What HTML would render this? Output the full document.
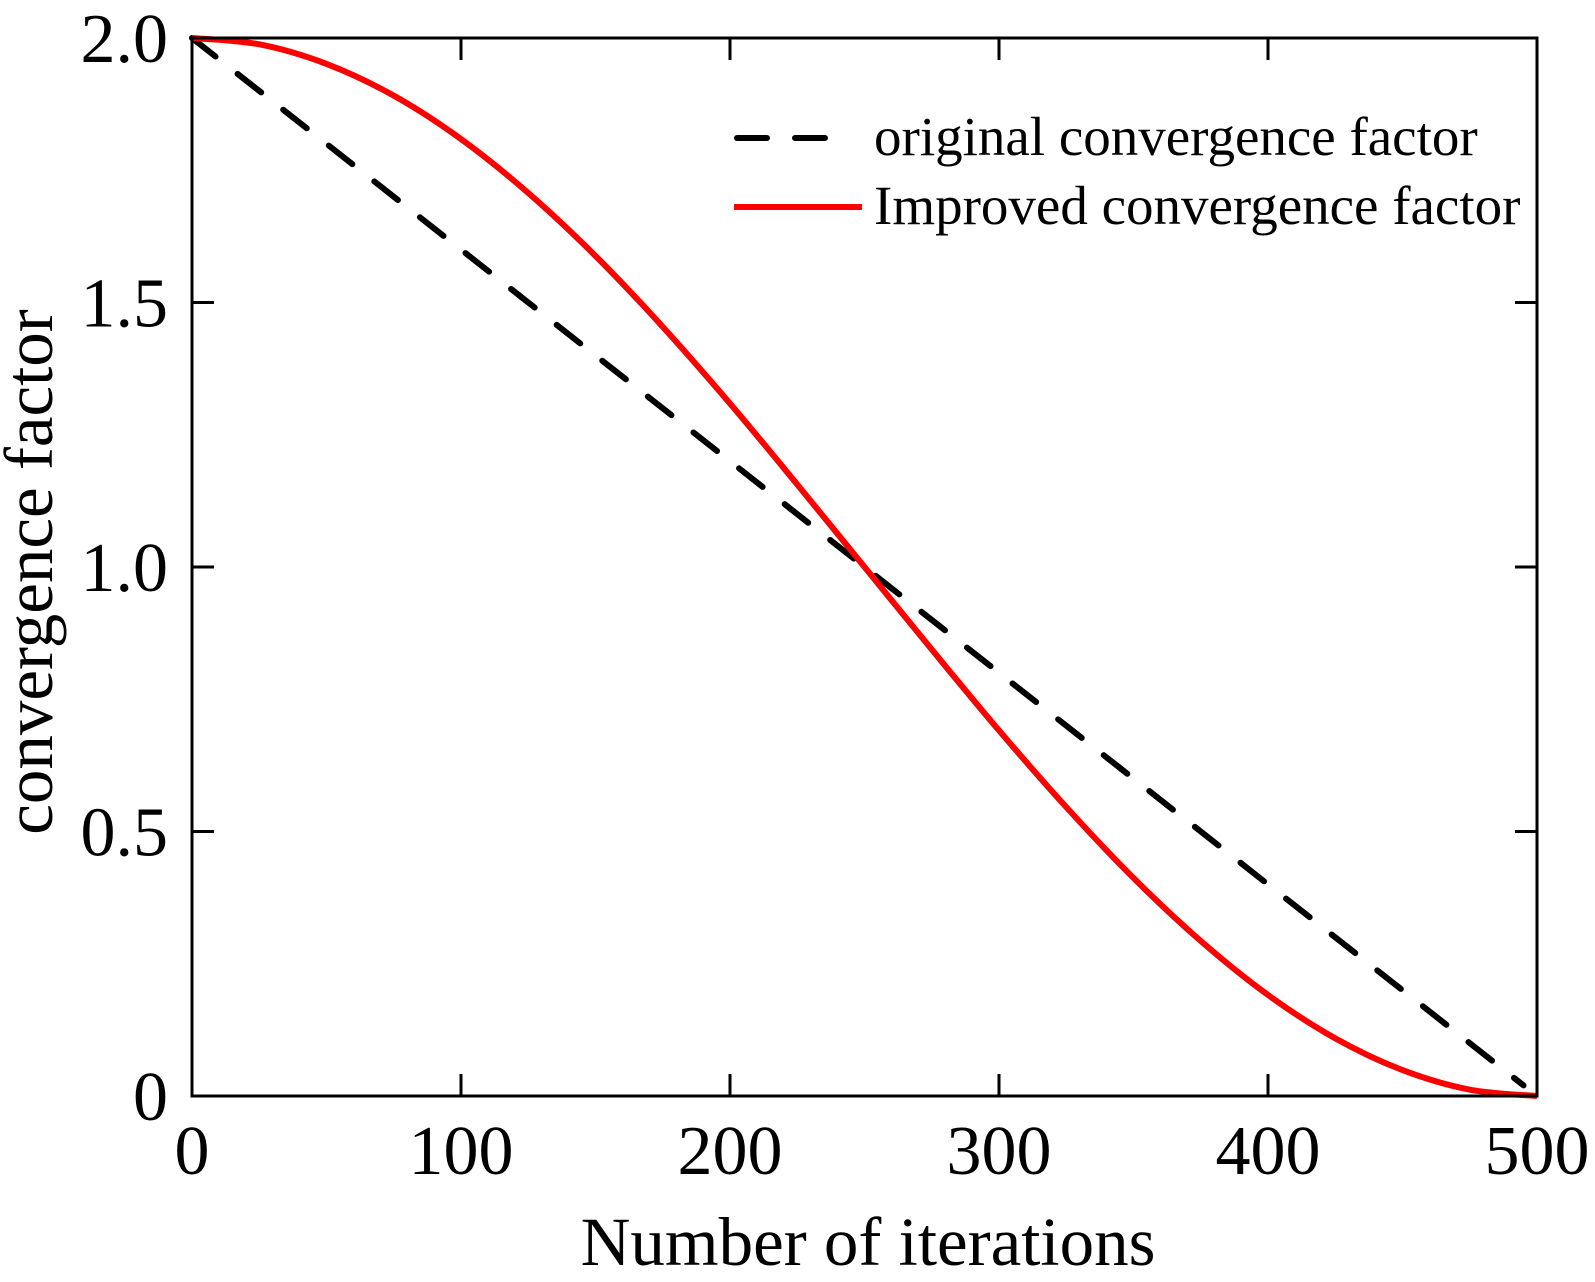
<!DOCTYPE html>
<html><head><meta charset="utf-8"><style>
html,body{margin:0;padding:0;background:#fff;}
svg{display:block;font-family:"Liberation Serif",serif;}
</style></head><body>
<svg id="chart" width="1595" height="1282" viewBox="0 0 1595 1282">
<g id="grid"></g>
<g id="series"></g>
<rect x="192" y="38" width="1345" height="1058" fill="none" stroke="#000" stroke-width="3"/>
<g id="ticks"></g>
<text x="868" y="1265" font-size="69" text-anchor="middle">Number of iterations</text>
<text transform="translate(52,572) rotate(-90)" font-size="69" text-anchor="middle">convergence factor</text>
<g>
<line x1="737" y1="138" x2="842" y2="138" stroke="#000" stroke-width="6" stroke-dasharray="30,28" stroke-linecap="round"/>
<text x="874" y="155" font-size="55">original convergence factor</text>
<line x1="734" y1="207" x2="862" y2="207" stroke="#ff0000" stroke-width="6"/>
<text x="874" y="224" font-size="55">Improved convergence factor</text>
</g>
</svg>
<script>
const origIter = [0, 50, 100, 150, 200, 250, 300, 350, 400, 450, 495];
const origVals = [2.0, 1.8, 1.6, 1.4, 1.2, 1.0, 0.8, 0.6, 0.4, 0.2, 0.02];
const impIter = [0,25,50,75,100,125,150,175,200,225,250,275,300,325,350,375,400,425,450,475,500];
const impVals = [2.0,1.988,1.951,1.891,1.809,1.707,1.588,1.454,1.309,1.156,1.0,0.844,0.691,0.546,0.412,0.293,0.191,0.109,0.049,0.012,0.0];
const xTicks = [0,100,200,300,400,500];
const xTickLabels = ["0","100","200","300","400","500"];
const yTicks = [0,0.5,1.0,1.5,2.0];
const yTickLabels = ["0","0.5","1.0","1.5","2.0"];

const X0=192,X1=1537,Y0=1096,Y1=38;
function sx(v){return X0+(v-0)/(500-0)*(X1-X0);}
function sy(v){return Y0-(v-0)/(2-0)*(Y0-Y1);}
const NS="http://www.w3.org/2000/svg";
const tg=document.getElementById('ticks');
const sg=document.getElementById('series');
function mk(tag,attrs,parent){const e=document.createElementNS(NS,tag);for(const k in attrs)e.setAttribute(k,attrs[k]);parent.appendChild(e);return e;}

xTicks.forEach((t,i)=>{
  const x=sx(t);
  if(i>0&&i<xTicks.length-1){
    const a=mk('line',{x1:x,y1:Y0,x2:x,y2:Y0-22,stroke:'#000','stroke-width':3},tg);
    
    
    const b=mk('line',{x1:x,y1:Y1,x2:x,y2:Y1+22,stroke:'#000','stroke-width':3},tg);
    
    
  }
  const l=mk('text',{x:x,y:1174,'font-size':70,'text-anchor':'middle'},tg);
  l.textContent=xTickLabels[i];
  
  
});
yTicks.forEach((t,i)=>{
  const y=sy(t);
  if(i>0&&i<yTicks.length-1){
    const a=mk('line',{x1:X0,y1:y,x2:X0+22,y2:y,stroke:'#000','stroke-width':3},tg);
    
    
    const b=mk('line',{x1:X1,y1:y,x2:X1-22,y2:y,stroke:'#000','stroke-width':3},tg);
    
    
  }
  const l=mk('text',{x:168,y:y+24,'font-size':70,'text-anchor':'end'},tg);
  l.textContent=yTickLabels[i];
  
  
});

function smoothPath(xs,ys){
  const p=xs.map((v,i)=>[sx(v),sy(ys[i])]);
  let d='M'+p[0][0]+','+p[0][1];
  for(let i=0;i<p.length-1;i++){
    const p0=p[Math.max(i-1,0)],p1=p[i],p2=p[i+1],p3=p[Math.min(i+2,p.length-1)];
    const c1=[p1[0]+(p2[0]-p0[0])/6,p1[1]+(p2[1]-p0[1])/6];
    const c2=[p2[0]-(p3[0]-p1[0])/6,p2[1]-(p3[1]-p1[1])/6];
    d+=' C'+c1+' '+c2+' '+p2;
  }
  return d;
}
const orig=mk('path',{d:'M'+origIter.map((v,i)=>sx(v)+','+sy(origVals[i])).join(' L'),fill:'none',stroke:'#000','stroke-width':6,'stroke-dasharray':'30,28','stroke-linecap':'round'},sg);


const imp=mk('path',{d:smoothPath(impIter,impVals),fill:'none',stroke:'#ff0000','stroke-width':6},sg);


</script>
</body></html>
